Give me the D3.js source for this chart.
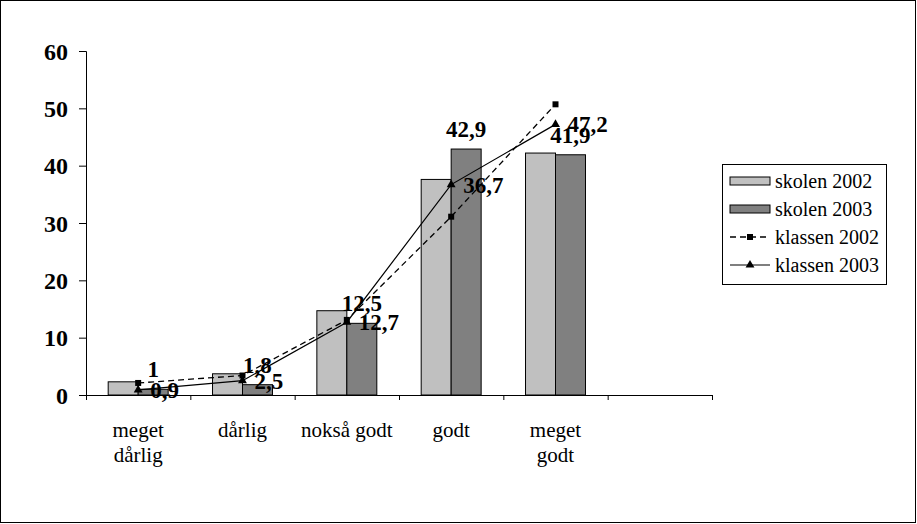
<!DOCTYPE html>
<html>
<head>
<meta charset="utf-8">
<script src="https://cdn.jsdelivr.net/npm/d3@7"></script>
<style>
  html, body { margin: 0; padding: 0; background: #fff; }
  svg { display: block; }
  text { font-family: "Liberation Serif", "Times New Roman", serif; fill: #000; }
</style>
</head>
<body>
<svg id="chart" width="917" height="524"></svg>
<script>
// ---- data ----
const categories = ["meget dårlig", "dårlig", "nokså godt", "godt", "meget godt", ""];
const categoryLines = [["meget", "dårlig"], ["dårlig"], ["nokså godt"], ["godt"], ["meget", "godt"], []];
const skolen2002 = [2.3, 3.7, 14.7, 37.6, 42.2];
const skolen2003 = [1, 1.8, 12.5, 42.9, 41.9];
const klassen2002 = [2.1, 3.4, 13.1, 31.1, 50.7];
const klassen2003 = [0.9, 2.5, 12.7, 36.7, 47.2];
const skolen2003Labels = ["1", "1,8", "12,5", "42,9", "41,9"];
const klassen2003Labels = ["0,9", "2,5", "12,7", "36,7", "47,2"];
const yTicks = [0, 10, 20, 30, 40, 50, 60];
const legendNames = ["skolen 2002", "skolen 2003", "klassen 2002", "klassen 2003"];

// ---- layout ----
const svg = d3.select("#chart");
const plotLeft = 86, plotRight = 712, plotTop = 51, plotBottom = 395;

svg.append("rect").attr("x", 0.5).attr("y", 0.5).attr("width", 915).attr("height", 522)
  .attr("fill", "#fff").attr("stroke", "#000").attr("stroke-width", 1);

const x = d3.scaleBand().domain(d3.range(categories.length)).range([plotLeft, plotRight]).padding(0);
const xEdge = d3.scaleLinear().domain([0, categories.length]).range([plotLeft, plotRight]);
const xSub = d3.scaleBand().domain(["s2002", "s2003"]).range([0, x.bandwidth()]).paddingInner(0).paddingOuter(0.74);
const y = d3.scaleLinear().domain([0, 60]).range([plotBottom, plotTop]);

// bars
const barData = [];
skolen2002.forEach((v, i) => barData.push({ i, key: "s2002", v, fill: "#C0C0C0" }));
skolen2003.forEach((v, i) => barData.push({ i, key: "s2003", v, fill: "#808080" }));
svg.append("g").selectAll("rect").data(barData).join("rect")
  .attr("x", d => x(d.i) + xSub(d.key))
  .attr("y", d => y(d.v))
  .attr("width", xSub.bandwidth())
  .attr("height", d => y(0) - y(d.v))
  .attr("fill", d => d.fill)
  .attr("stroke", "#000").attr("stroke-width", 1);

// axes
const yAxis = svg.append("g").attr("transform", `translate(${plotLeft},0)`)
  .call(d3.axisLeft(y).tickValues(yTicks).tickSize(7).tickFormat(d3.format("d")));
yAxis.selectAll("path,line").attr("stroke", "#000");
yAxis.selectAll("text").attr("font-family", "Liberation Serif").attr("font-weight", "bold")
  .attr("font-size", 24).attr("x", -18).attr("dy", "0.34em").attr("fill", "#000");

const xAxis = svg.append("g").attr("transform", `translate(0,${plotBottom})`)
  .call(d3.axisBottom(xEdge).tickValues(d3.range(categories.length + 1)).tickSize(5).tickSizeOuter(0).tickFormat(""));
xAxis.selectAll("path,line").attr("stroke", "#000");

// x labels
const xl = svg.append("g");
categoryLines.forEach((lines, i) => {
  const t = xl.append("text").attr("text-anchor", "middle").attr("font-size", 21);
  lines.forEach((ln, k) => {
    t.append("tspan").attr("x", x(i) + x.bandwidth() / 2).attr("y", 437 + k * 25).text(ln);
  });
});

// lines
const cx = i => x(i) + x.bandwidth() / 2;
const line = d3.line().x((d, i) => cx(i)).y(d => y(d));
svg.append("path").datum(klassen2002).attr("d", line).attr("fill", "none")
  .attr("stroke", "#000").attr("stroke-width", 1.3).attr("stroke-dasharray", "6,4");
svg.append("path").datum(klassen2003).attr("d", line).attr("fill", "none")
  .attr("stroke", "#000").attr("stroke-width", 1.2);

const sq = d3.symbol().type(d3.symbolSquare).size(36);
const tri = d3.symbol().type(d3.symbolTriangle).size(34);
svg.append("g").selectAll("path").data(klassen2002).join("path")
  .attr("d", sq).attr("transform", (d, i) => `translate(${cx(i)},${y(d)})`).attr("fill", "#000");
svg.append("g").selectAll("path").data(klassen2003).join("path")
  .attr("d", tri).attr("transform", (d, i) => `translate(${cx(i)},${y(d)})`).attr("fill", "#000");

// data labels
svg.append("g").selectAll("text").data(skolen2003).join("text")
  .attr("x", (d, i) => x(i) + xSub("s2003") + xSub.bandwidth() / 2)
  .attr("y", d => y(d) - 12)
  .attr("text-anchor", "middle").attr("font-weight", "bold").attr("font-size", 23)
  .text((d, i) => skolen2003Labels[i]);
svg.append("g").selectAll("text").data(klassen2003).join("text")
  .attr("x", (d, i) => cx(i) + 12)
  .attr("y", d => y(d) + 8)
  .attr("text-anchor", "start").attr("font-weight", "bold").attr("font-size", 23)
  .text((d, i) => klassen2003Labels[i]);

// legend
const lg = svg.append("g");
lg.append("rect").attr("x", 722.5).attr("y", 164.5).attr("width", 164).attr("height", 120)
  .attr("fill", "#fff").attr("stroke", "#000");
const rowY = [181, 209, 237, 265];
const lx0 = 730, lx1 = 770;
lg.append("rect").attr("x", lx0).attr("y", rowY[0] - 4).attr("width", lx1 - lx0).attr("height", 8)
  .attr("fill", "#C0C0C0").attr("stroke", "#000");
lg.append("rect").attr("x", lx0).attr("y", rowY[1] - 4).attr("width", lx1 - lx0).attr("height", 8)
  .attr("fill", "#808080").attr("stroke", "#000");
lg.append("line").attr("x1", lx0).attr("x2", lx1).attr("y1", rowY[2]).attr("y2", rowY[2])
  .attr("stroke", "#000").attr("stroke-width", 1.3).attr("stroke-dasharray", "6,4");
lg.append("path").attr("d", sq).attr("transform", `translate(${(lx0 + lx1) / 2},${rowY[2]})`);
lg.append("line").attr("x1", lx0).attr("x2", lx1).attr("y1", rowY[3]).attr("y2", rowY[3])
  .attr("stroke", "#000").attr("stroke-width", 1.2);
lg.append("path").attr("d", tri).attr("transform", `translate(${(lx0 + lx1) / 2},${rowY[3]})`);
legendNames.forEach((n, k) => {
  lg.append("text").attr("x", 775).attr("y", rowY[k] + 7).attr("font-size", 20).text(n);
});
</script>
</body>
</html>
